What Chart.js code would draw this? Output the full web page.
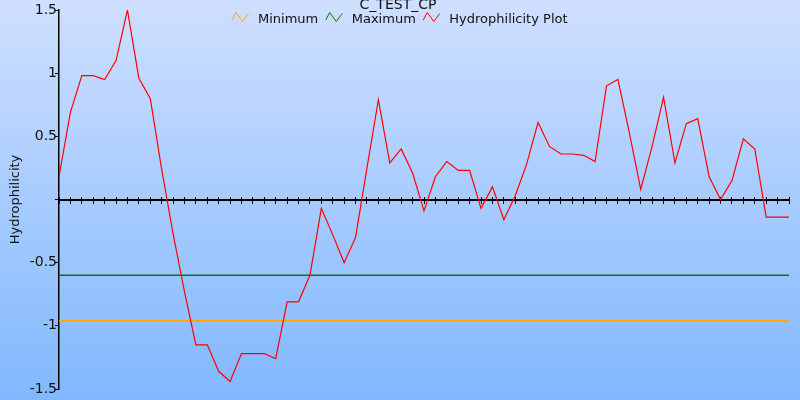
<!DOCTYPE html>
<html>
<head>
<meta charset="utf-8">
<script src="https://cdn.jsdelivr.net/npm/chart.js@4/dist/chart.umd.min.js"></script>
<style>
  html, body { margin: 0; padding: 0; }
  .wrap {
    width: 800px;
    height: 400px;
    background: linear-gradient(to bottom, #cfdfff 0%, #80b8fe 100%);
  }
</style>
</head>
<body>
<div class="wrap"><canvas id="hydroChart" width="800" height="400"></canvas></div>
<script>
const chartTitle = 'C_TEST_CP';
const axisTitle = 'Hydrophilicity';

// residue positions (no labels shown on the axis)
const positions = [
  '1', '2', '3', '4', '5', '6', '7', '8', '9', '10',
  '11', '12', '13', '14', '15', '16', '17', '18', '19', '20',
  '21', '22', '23', '24', '25', '26', '27', '28', '29', '30',
  '31', '32', '33', '34', '35', '36', '37', '38', '39', '40',
  '41', '42', '43', '44', '45', '46', '47', '48', '49', '50',
  '51', '52', '53', '54', '55', '56', '57', '58', '59', '60',
  '61', '62', '63', '64', '65'
];

const hydrophilicity = [
  0.18, 0.69, 0.98, 0.98, 0.95, 1.10, 1.50, 0.96, 0.80, 0.24,
  -0.27, -0.73, -1.15, -1.15, -1.36, -1.44, -1.22, -1.22, -1.22, -1.26,
  -0.81, -0.81, -0.60, -0.07, -0.28, -0.50, -0.30, 0.25, 0.79, 0.29,
  0.40, 0.21, -0.09, 0.18, 0.30, 0.23, 0.23, -0.07, 0.10, -0.16,
  0.03, 0.28, 0.61, 0.42, 0.36, 0.36, 0.35, 0.30, 0.90, 0.95,
  0.53, 0.08, 0.42, 0.81, 0.29, 0.60, 0.64, 0.18, 0.00, 0.15,
  0.48, 0.40, -0.14, -0.14, -0.14
];

const minimumLevel = -0.96;
const maximumLevel = -0.60;

const yTicks = [-1.5, -1, -0.5, 0, 0.5, 1, 1.5];

const first = positions[0];
const last = positions[positions.length - 1];

// title + legend sit on top of the plot area, like the original
const titleLegend = {
  id: 'titleLegend',
  afterDraw(chart) {
    const ctx = chart.ctx;
    ctx.save();
    ctx.fillStyle = '#111';
    ctx.font = '14px "DejaVu Sans", sans-serif';
    ctx.textAlign = 'center';
    ctx.textBaseline = 'alphabetic';
    ctx.fillText(chartTitle, 398, 9);

    ctx.font = '13px "DejaVu Sans", sans-serif';
    ctx.textAlign = 'left';
    let x = 232;
    chart.data.datasets.forEach(ds => {
      ctx.strokeStyle = ds.borderColor;
      ctx.lineWidth = 1;
      ctx.beginPath();
      ctx.moveTo(x, 20);
      ctx.lineTo(x + 4, 12.5);
      ctx.lineTo(x + 10.5, 21.5);
      ctx.lineTo(x + 16.5, 13.5);
      ctx.stroke();
      ctx.fillStyle = '#111';
      ctx.fillText(ds.label, x + 26, 23);
      x += 26 + ctx.measureText(ds.label).width + 7.5;
    });
    ctx.restore();
  }
};

Chart.defaults.font.family = '"DejaVu Sans", sans-serif';
Chart.defaults.color = '#111';

const ctx = document.getElementById('hydroChart').getContext('2d');

new Chart(ctx, {
  type: 'line',
  data: {
    labels: positions,
    datasets: [
      {
        label: 'Minimum',
        data: [{x: first, y: minimumLevel}, {x: last, y: minimumLevel}],
        borderColor: '#ffa500',
        borderWidth: 1.5,
        pointRadius: 0,
        order: 2
      },
      {
        label: 'Maximum',
        data: [{x: first, y: maximumLevel}, {x: last, y: maximumLevel}],
        borderColor: '#007a00',
        borderWidth: 1.5,
        pointRadius: 0,
        order: 1
      },
      {
        label: 'Hydrophilicity Plot',
        data: hydrophilicity,
        borderColor: '#ff0000',
        borderWidth: 1.2,
        pointRadius: 0,
        tension: 0,
        order: 0
      }
    ]
  },
  options: {
    responsive: false,
    animation: false,
    layout: {
      padding: { left: 0, right: 11, top: 10, bottom: 11 }
    },
    plugins: {
      legend: { display: false },
      title: { display: false },
      tooltip: { enabled: false }
    },
    scales: {
      x: {
        type: 'category',
        position: { y: 0 },
        ticks: { display: false },
        grid: {
          drawOnChartArea: false,
          tickLength: 3,
          color: '#000',
          tickColor: '#000'
        },
        border: { color: '#000', width: 2 }
      },
      // second axis only to draw the upper half of the cross ticks
      x2: {
        type: 'category',
        position: { y: 0.02 },
        ticks: { display: false },
        grid: {
          drawOnChartArea: false,
          tickLength: 2.5,
          color: '#000',
          tickColor: '#000'
        },
        border: { display: false }
      },
      y: {
        min: -1.5,
        max: 1.5,
        afterBuildTicks: axis => {
          axis.ticks = yTicks.map(v => ({ value: v }));
        },
        afterFit: axis => {
          axis.width = 59;
        },
        ticks: {
          padding: -2,
          font: { size: 14 },
          color: '#111',
          callback: v => (v === 0 ? '' : String(v))
        },
        grid: {
          drawOnChartArea: false,
          tickLength: 4,
          color: '#000',
          tickColor: '#000'
        },
        border: { color: '#000', width: 1.5 },
        title: {
          display: true,
          text: axisTitle,
          font: { size: 13 },
          color: '#111',
          padding: { top: 8, bottom: 0 }
        }
      }
    }
  },
  plugins: [titleLegend]
});
</script>
</body>
</html>
